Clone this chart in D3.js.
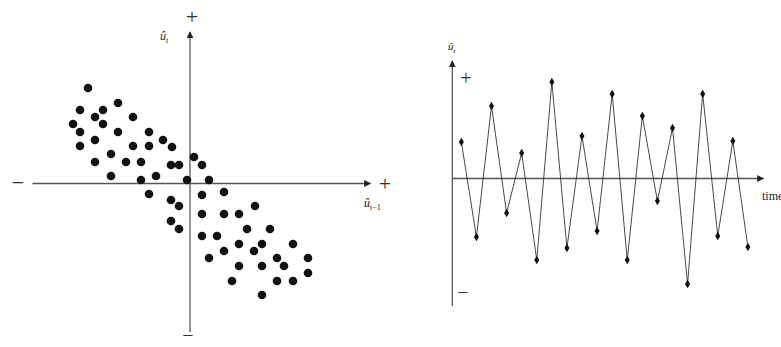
<!DOCTYPE html>
<meta charset="utf-8">
<script src="https://d3js.org/d3.v7.min.js"></script>
<style>
  body { margin: 0; background: #fff; }
  .lbl { font-family: "Liberation Serif", serif; font-style: italic; fill: #222; }
  .sign { font-family: "Liberation Serif", serif; fill: #333; }
</style>
<div id="chart"></div>
<script>
// left panel: residual at t-1 vs residual at t (units arbitrary)
var lagU = [-10.2,-11.0,-8.7,-7.2,-9.5,-5.7,-11.7,-8.7,-11.0,-7.2,-4.1,-9.5,-2.7,-11.0,-5.7,-4.1,-1.8,0.4,-7.9,-9.5,
  -6.4,-4.9,-1.9,-1.1,1.2,-7.9,-4.9,-3.4,-0.3,1.9,-4.1,1.2,3.4,-1.9,-1.1,6.5,1.2,3.4,4.9,-1.9,
  -1.1,5.7,8.0,1.2,2.7,4.9,7.2,10.3,3.4,6.4,1.9,8.7,11.8,4.9,7.2,9.4,11.8,4.2,8.7,10.3,7.2];
var curU = [9.5,7.3,7.3,8.0,6.6,6.6,5.9,5.9,5.1,5.1,5.1,4.3,4.3,3.7,3.7,3.7,3.6,2.6,2.9,2.1,
  2.1,2.1,1.8,1.8,1.8,0.7,0.3,0.7,0.3,0.3,-1.1,-1.2,-0.9,-1.7,-2.3,-2.3,-3.1,-3.1,-3.1,-3.8,
  -4.6,-4.6,-4.6,-5.3,-5.3,-6.1,-6.1,-6.1,-6.8,-6.8,-7.5,-7.5,-7.5,-8.3,-8.3,-8.3,-9.0,-9.8,-9.8,-9.8,-11.2];

// right panel: residual over time
var timeIdx = d3.range(1, 21);
var resid = [3.6,-5.9,7.2,-3.5,2.5,-8.2,9.6,-7.0,4.2,-5.3,8.4,-8.2,6.2,-2.3,5.0,-10.6,8.4,-5.8,3.7,-6.9];

var svg = d3.select("#chart").append("svg")
  .attr("width", 781).attr("height", 347);

svg.append("defs").append("marker")
  .attr("id", "arrow")
  .attr("viewBox", "0 0 10 10")
  .attr("refX", 9).attr("refY", 5)
  .attr("markerWidth", 7).attr("markerHeight", 7)
  .attr("markerUnits", "userSpaceOnUse")
  .attr("orient", "auto")
  .append("path")
    .attr("d", "M0,0 L10,5 L0,10 Z")
    .attr("fill", "#222");

// ---------- left scatter ----------
var x1 = d3.scaleLinear().domain([-15.8, 18.0]).range([32, 370]);
var y1 = d3.scaleLinear().domain([-14.9, 15.1]).range([332, 32]);

var gx1 = svg.append("g")
  .attr("transform", "translate(0," + y1(0) + ")")
  .call(d3.axisBottom(x1).tickValues([]).tickSizeOuter(0));
gx1.select(".domain").attr("stroke", "#555").attr("stroke-width", 1.3).attr("marker-end", "url(#arrow)");

// y axis: redraw the domain bottom -> top so the arrow sits at the top
var gy1 = svg.append("g")
  .attr("transform", "translate(" + x1(0) + ",0)")
  .call(d3.axisLeft(y1).tickValues([]).tickSizeOuter(0));
gy1.select(".domain").remove();
gy1.append("path")
  .attr("d", "M0," + y1(-14.9) + "V" + y1(15.1))
  .attr("stroke", "#555").attr("stroke-width", 1.3).attr("fill", "none")
  .attr("marker-end", "url(#arrow)");

svg.append("g")
  .selectAll("circle")
  .data(lagU)
  .enter()
  .append("circle")
    .attr("cx", function(d) { return x1(d); })
    .attr("cy", function(d, i) { return y1(curU[i]); })
    .attr("r", 4.3)
    .attr("fill", "#111");

svg.append("text").attr("class", "sign").attr("x", x1(0) + 2).attr("y", 24)
  .attr("text-anchor", "middle").attr("font-size", 22).text("+");
svg.append("text").attr("class", "sign").attr("x", x1(0) - 2).attr("y", 342)
  .attr("text-anchor", "middle").attr("font-size", 20).text("−");
svg.append("text").attr("class", "sign").attr("x", 18).attr("y", y1(0) + 7)
  .attr("text-anchor", "middle").attr("font-size", 22).text("−");
svg.append("text").attr("class", "sign").attr("x", 385).attr("y", y1(0) + 8)
  .attr("text-anchor", "middle").attr("font-size", 22).text("+");

var l1 = svg.append("text").attr("class", "lbl").attr("x", 160).attr("y", 40).attr("font-size", 12);
l1.append("tspan").text("û");
l1.append("tspan").attr("font-size", 8).attr("dy", 3).text("t");

var l2 = svg.append("text").attr("class", "lbl").attr("x", 364).attr("y", 207).attr("font-size", 12);
l2.append("tspan").text("û");
l2.append("tspan").attr("font-size", 8).attr("dy", 3).attr("font-style", "normal").text("t−1");

// ---------- right time series ----------
var x2 = d3.scaleLinear().domain([0.4, 21.0]).range([452.3, 763]);
var y2 = d3.scaleLinear().domain([-12.8, 11.7]).range([306, 61]);

var gx2 = svg.append("g")
  .attr("transform", "translate(0," + y2(0) + ")")
  .call(d3.axisBottom(x2).tickValues([]).tickSizeOuter(0));
gx2.select(".domain").attr("stroke", "#555").attr("stroke-width", 1.3).attr("marker-end", "url(#arrow)");

var gy2 = svg.append("g")
  .attr("transform", "translate(" + x2(0.4) + ",0)")
  .call(d3.axisLeft(y2).tickValues([]).tickSizeOuter(0));
gy2.select(".domain").remove();
gy2.append("path")
  .attr("d", "M0," + y2(-12.8) + "V" + y2(11.7))
  .attr("stroke", "#555").attr("stroke-width", 1.3).attr("fill", "none")
  .attr("marker-end", "url(#arrow)");

svg.append("path")
  .datum(resid)
  .attr("fill", "none")
  .attr("stroke", "#333")
  .attr("stroke-width", 0.9)
  .attr("d", d3.line()
    .x(function(d, i) { return x2(timeIdx[i]); })
    .y(function(d) { return y2(d); }));

svg.append("g")
  .selectAll("path")
  .data(resid)
  .enter()
  .append("path")
    .attr("d", d3.symbol().type(d3.symbolDiamond).size(22))
    .attr("transform", function(d, i) { return "translate(" + x2(timeIdx[i]) + "," + y2(d) + ")"; })
    .attr("fill", "#111");

svg.append("text").attr("class", "sign").attr("x", 466).attr("y", 85)
  .attr("text-anchor", "middle").attr("font-size", 20).text("+");
svg.append("text").attr("class", "sign").attr("x", 463).attr("y", 299)
  .attr("text-anchor", "middle").attr("font-size", 20).text("−");

var l3 = svg.append("text").attr("class", "lbl").attr("x", 448).attr("y", 50).attr("font-size", 11);
l3.append("tspan").text("û");
l3.append("tspan").attr("font-size", 7).attr("dy", 3).text("t");

// the reference crops this label at the right edge
svg.append("text").attr("x", 762).attr("y", 200)
  .attr("font-family", "Liberation Serif, serif").attr("font-size", 12).attr("fill", "#222")
  .text("time");
</script>
